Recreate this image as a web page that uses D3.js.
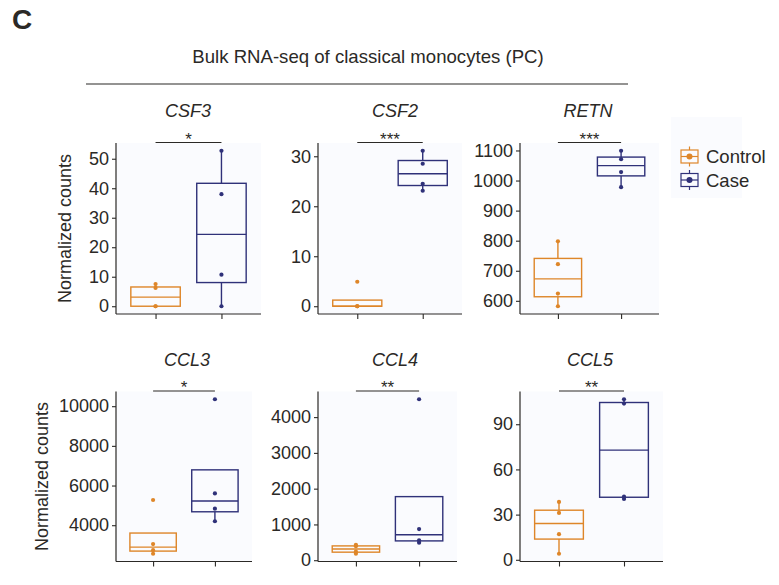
<!DOCTYPE html>
<html>
<head>
<meta charset="utf-8">
<script src="https://cdn.jsdelivr.net/npm/d3@7"></script>
<style>
  body { margin: 0; background: #fff; }
  text { font-family: "Liberation Sans", Arial, sans-serif; fill: #2b2926; }
  .tick-label { font-size: 18px; }
  .gene { font-size: 18px; font-style: italic; }
  .ylab { font-size: 18px; }
  .stars { font-size: 17px; }
</style>
</head>
<body>
<svg width="779" height="585"></svg>
<script>
// data
const groups = ["Control", "Case"];
const genes = ["CSF3", "CSF2", "RETN", "CCL3", "CCL4", "CCL5"];
const controlValues = [
  [0, 0, 6.2, 7.5],
  [0, 0, 0, 4.9],
  [582, 624, 722, 798],
  [2560, 2740, 3050, 5270],
  [180, 240, 390, 430],
  [4, 17, 31.1, 38.4]
];
const caseValues = [
  [0, 10.7, 38, 52.7],
  [23.1, 24.5, 28.5, 31.1],
  [978, 1028, 1071, 1099],
  [4200, 4836, 5604, 10351],
  [491, 556, 870, 4500],
  [40.4, 41.9, 103.7, 106.6]
];
const significance = ["*", "***", "***", "*", "**", "**"];
const yTicks = [
  [0, 10, 20, 30, 40, 50],
  [0, 10, 20, 30],
  [600, 700, 800, 900, 1000, 1100],
  [4000, 6000, 8000, 10000],
  [0, 1000, 2000, 3000, 4000],
  [0, 30, 60, 90]
];

const colors = { Control: "#de8629", Case: "#2f3179" };
const ink = "#2b2926";
const panelBg = "#fafbfe";

// panel positions [left, right, top, bottom, title x]
const panels = [
  [116, 261, 143, 314, 188],
  [318, 462, 143, 314, 395],
  [520, 659, 143, 314, 588],
  [116, 252, 391.5, 561.5, 187],
  [318, 457, 391.5, 561.5, 395],
  [520, 663, 391.5, 561.5, 590]
];

const svg = d3.select("svg");

// panel letter and header
svg.append("text")
  .attr("x", 12).attr("y", 29)
  .style("font-size", "28px").style("font-weight", "bold")
  .text("C");

svg.append("text")
  .attr("x", 368).attr("y", 63)
  .attr("text-anchor", "middle")
  .style("font-size", "18.6px")
  .text("Bulk RNA-seq of classical monocytes (PC)");

svg.append("line")
  .attr("x1", 86).attr("x2", 628)
  .attr("y1", 84).attr("y2", 84)
  .attr("stroke", ink).attr("stroke-width", 1.2);

function boxStats(vals) {
  const s = vals.slice().sort(d3.ascending);
  const q1 = d3.quantile(s, 0.25);
  const med = d3.quantile(s, 0.5);
  const q3 = d3.quantile(s, 0.75);
  const iqr = q3 - q1;
  const lo = d3.min(s.filter(v => v >= q1 - 1.5 * iqr));
  const hi = d3.max(s.filter(v => v <= q3 + 1.5 * iqr));
  return { q1, med, q3, lo, hi };
}

genes.forEach((gene, i) => {
  const [left, right, top, bottom, titleX] = panels[i];
  const series = { Control: controlValues[i], Case: caseValues[i] };
  const all = controlValues[i].concat(caseValues[i]);
  const [mn, mx] = d3.extent(all);
  const pad = (mx - mn) * 0.05;

  const x = d3.scalePoint().domain(groups).range([left, right]).padding(0.6);
  const y = d3.scaleLinear().domain([mn - pad, mx + pad]).range([bottom, top]);

  const g = svg.append("g");

  g.append("rect")
    .attr("x", left).attr("y", top)
    .attr("width", right - left).attr("height", bottom - top)
    .attr("fill", panelBg);

  // y axis
  const yAxis = g.append("g")
    .attr("transform", `translate(${left},0)`)
    .call(d3.axisLeft(y).tickValues(yTicks[i]).tickSize(4).tickPadding(3).tickFormat(d3.format("d")));
  yAxis.select(".domain").attr("d", `M0,${top}V${bottom}`).attr("stroke", ink).attr("stroke-width", 1.2);
  yAxis.selectAll(".tick line").attr("stroke", ink).attr("stroke-width", 1.1);
  yAxis.selectAll(".tick text").attr("class", "tick-label").attr("fill", ink)
    .style("font-family", "'Liberation Sans', Arial, sans-serif");

  // x axis
  const xAxis = g.append("g")
    .attr("transform", `translate(0,${bottom})`)
    .call(d3.axisBottom(x).tickSize(5).tickFormat(""));
  xAxis.select(".domain").attr("d", `M${left},0H${right}`).attr("stroke", ink).attr("stroke-width", 1.2);
  xAxis.selectAll(".tick line").attr("stroke", ink).attr("stroke-width", 1.1);

  // boxes
  const bw = (x.step()) * 0.75;
  groups.forEach(grp => {
    const st = boxStats(series[grp]);
    const cx = x(grp);
    const col = colors[grp];
    const bg = g.append("g").attr("stroke", col).attr("stroke-width", 1.4).attr("fill", "none");
    if (st.hi > st.q3) bg.append("line").attr("x1", cx).attr("x2", cx).attr("y1", y(st.q3)).attr("y2", y(st.hi));
    if (st.lo < st.q1) bg.append("line").attr("x1", cx).attr("x2", cx).attr("y1", y(st.q1)).attr("y2", y(st.lo));
    bg.append("rect")
      .attr("x", cx - bw / 2).attr("width", bw)
      .attr("y", y(st.q3)).attr("height", Math.max(0.5, y(st.q1) - y(st.q3)));
    bg.append("line")
      .attr("x1", cx - bw / 2).attr("x2", cx + bw / 2)
      .attr("y1", y(st.med)).attr("y2", y(st.med));

    g.selectAll(null)
      .data(series[grp])
      .join("circle")
      .attr("cx", cx)
      .attr("cy", d => y(d))
      .attr("r", 2.1)
      .attr("fill", col);
  });

  // title
  g.append("text")
    .attr("class", "gene")
    .attr("x", titleX).attr("y", top - 26)
    .attr("text-anchor", "middle")
    .text(gene);

  // significance bracket
  g.append("line")
    .attr("x1", x("Control")).attr("x2", x("Case"))
    .attr("y1", top - 0.5).attr("y2", top - 0.5)
    .attr("stroke", ink).attr("stroke-width", 1.1);
  g.append("text")
    .attr("class", "stars")
    .attr("x", (x("Control") + x("Case")) / 2).attr("y", top + 1.5)
    .attr("text-anchor", "middle")
    .text(significance[i]);

  // y label for first column
  if (i % 3 === 0) {
    const labX = i === 0 ? 70.5 : 48;
    g.append("text")
      .attr("class", "ylab")
      .attr("transform", `translate(${labX},${(top + bottom) / 2}) rotate(-90)`)
      .attr("text-anchor", "middle")
      .text("Normalized counts");
  }
});

// legend
const legend = svg.append("g");
legend.append("rect")
  .attr("x", 671).attr("y", 117).attr("width", 71).attr("height", 81)
  .attr("fill", panelBg);
groups.forEach((grp, k) => {
  const cy = 156.5 + k * 23.5;
  const col = colors[grp];
  const key = legend.append("g").attr("stroke", col).attr("stroke-width", 1.2).attr("fill", "none");
  key.append("line").attr("x1", 689.5).attr("x2", 689.5).attr("y1", cy - 10).attr("y2", cy + 10);
  key.append("rect").attr("x", 681).attr("y", cy - 6.5).attr("width", 17).attr("height", 13).attr("fill", panelBg);
  key.append("line").attr("x1", 681).attr("x2", 698).attr("y1", cy).attr("y2", cy);
  legend.append("circle").attr("cx", 689.5).attr("cy", cy).attr("r", 3).attr("fill", col);
  legend.append("text")
    .attr("x", 706).attr("y", cy + 6.5)
    .style("font-size", "18.5px")
    .text(grp);
});
</script>
</body>
</html>
